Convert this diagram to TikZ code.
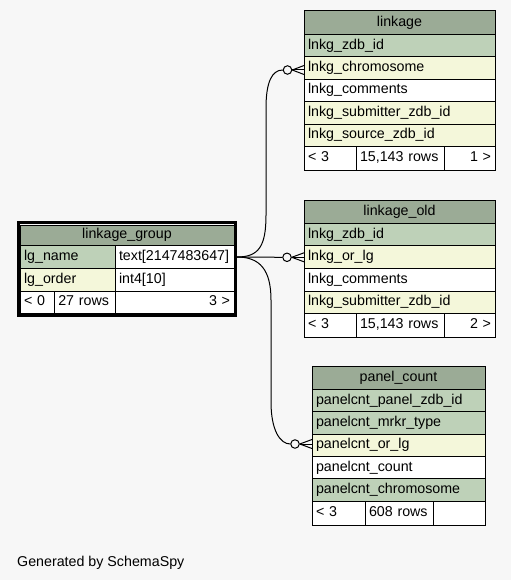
\documentclass[tikz,border=0pt]{standalone}
\usepackage{fontspec}
\setmainfont{Liberation Sans}
\definecolor{hdr}{HTML}{9BAB96}
\definecolor{pk}{HTML}{BED1B8}
\definecolor{fk}{HTML}{F4F7DA}
\definecolor{bg}{HTML}{F7F7F7}
\begin{document}
\begin{tikzpicture}[x=1pt,y=-1pt,
  cell/.style={draw=black, line width=1pt, inner xsep=4pt, inner ysep=0pt, outer sep=0pt,
    anchor=north west, text height=10pt, text depth=3pt, font=\fontsize{14.25}{16}\selectfont, align=left},
  hd/.style={cell, fill=hdr, align=center},
  pkc/.style={cell, fill=pk},
  fkc/.style={cell, fill=fk},
  wc/.style={cell, fill=white},
  rc/.style={cell, fill=white, align=right},
  odot/.style={circle, draw=black, line width=1pt, fill=bg, minimum size=8.5pt, inner sep=0pt},
  conn/.style={draw=black, line width=1pt},
]
\fill[bg] (0,0) rectangle (511,580);
\useasboundingbox (0,0) rectangle (511,580);

% ---------- linkage ----------
\node[hd, text width=183pt, minimum height=23.3pt] (lkh) at (304,11) {linkage};
\node[pkc, text width=183pt, minimum height=22.45pt] (lk1) at (304,34.3) {lnkg\_zdb\_id};
\node[fkc, text width=183pt, minimum height=22.45pt] (lk2) at (304,56.75) {lnkg\_chromosome};
\node[wc, text width=183pt, minimum height=22.45pt] (lk3) at (304,79.2) {lnkg\_comments};
\node[fkc, text width=183pt, minimum height=22.45pt] (lk4) at (304,101.65) {lnkg\_submitter\_zdb\_id};
\node[fkc, text width=183pt, minimum height=22.45pt] (lk5) at (304,124.1) {lnkg\_source\_zdb\_id};
\node[wc, text width=44pt, minimum height=23.45pt] (lkf1) at (304,146.55) {< 3};
\node[wc, text width=80pt, minimum height=23.45pt] (lkf2) at (356,146.55) {15,143 rows};
\node[rc, text width=43pt, minimum height=23.45pt] (lkf3) at (444,146.55) {1 >};

% ---------- linkage_old ----------
\node[hd, text width=183pt, minimum height=23.3pt] (loh) at (304,200) {linkage\_old};
\node[pkc, text width=183pt, minimum height=22.6pt] (lo1) at (304,223.3) {lnkg\_zdb\_id};
\node[fkc, text width=183pt, minimum height=22.6pt] (lo2) at (304,245.9) {lnkg\_or\_lg};
\node[wc, text width=183pt, minimum height=22.6pt] (lo3) at (304,268.5) {lnkg\_comments};
\node[fkc, text width=183pt, minimum height=22.6pt] (lo4) at (304,291.1) {lnkg\_submitter\_zdb\_id};
\node[wc, text width=44pt, minimum height=23.3pt] (lof1) at (304,313.7) {< 3};
\node[wc, text width=80pt, minimum height=23.3pt] (lof2) at (356,313.7) {15,143 rows};
\node[rc, text width=43pt, minimum height=23.3pt] (lof3) at (444,313.7) {2 >};

% ---------- panel_count ----------
\node[hd, text width=165pt, minimum height=23.3pt] (pch) at (312,366) {panel\_count};
\node[pkc, text width=165pt, minimum height=22.4pt] (pc1) at (312,389.3) {panelcnt\_panel\_zdb\_id};
\node[pkc, text width=165pt, minimum height=22.4pt] (pc2) at (312,411.7) {panelcnt\_mrkr\_type};
\node[fkc, text width=165pt, minimum height=22.4pt] (pc3) at (312,434.1) {panelcnt\_or\_lg};
\node[wc, text width=165pt, minimum height=22.4pt] (pc4) at (312,456.5) {panelcnt\_count};
\node[pkc, text width=165pt, minimum height=22.4pt] (pc5) at (312,478.9) {panelcnt\_chromosome};
\node[wc, text width=45pt, minimum height=23.7pt] (pcf1) at (312,501.3) {< 3};
\node[wc, text width=60.3pt, minimum height=23.7pt] (pcf2) at (365,501.3) {608 rows};
\node[rc, text width=43.7pt, minimum height=23.7pt] (pcf3) at (433.3,501.3) {};

% ---------- linkage_group ----------
\node[hd, text width=206pt, minimum height=20.7pt] (lgh) at (20,225) {linkage\_group};
\node[pkc, text width=87pt, minimum height=22.6pt] (lg1) at (20,245.7) {lg\_name};
\node[wc, text width=111pt, minimum height=22.6pt] (lg1t) at (115,245.7) {text[2147483647]};
\node[fkc, text width=87pt, minimum height=22.7pt] (lg2) at (20,268.3) {lg\_order};
\node[wc, text width=111pt, minimum height=22.7pt] (lg2t) at (115,268.3) {int4[10]};
\node[wc, text width=26.3pt, minimum height=22.3pt] (lgf1) at (20,291) {< 0};
\node[wc, text width=52.7pt, minimum height=22.3pt] (lgf2) at (54.3,291) {27 rows};
\node[rc, text width=111pt, minimum height=22.3pt] (lgf3) at (115,291) {3 >};
\draw[line width=3pt] (18.2,222.3) rectangle (235.6,315.3);

% ---------- connectors ----------
\coordinate (src) at (237,257);
\node[odot] (o1) at (287.5,70) {};
\node[odot] (o2) at (287,257.3) {};
\node[odot] (o3) at (295,444) {};

\draw[conn] (src) .. controls (259,257) and (266,246) .. (266,215) -- (266,108)
  .. controls (266,82) and (272,70) .. (o1.west);
\draw[conn] (src) -- (o2.west);
\draw[conn] (src) .. controls (260,257) and (271,270) .. (271,300) -- (271,402)
  .. controls (271,430) and (280,444) .. (o3.west);

\draw[conn] (o1.east) -- ([yshift=4.5pt]lk2.west |- o1);
\draw[conn] (o1.east) -- (lk2.west |- o1);
\draw[conn] (o1.east) -- ([yshift=-4.5pt]lk2.west |- o1);
\draw[conn] (o2.east) -- ([yshift=4.5pt]lo2.west |- o2);
\draw[conn] (o2.east) -- (lo2.west |- o2);
\draw[conn] (o2.east) -- ([yshift=-4.5pt]lo2.west |- o2);
\draw[conn] (o3.east) -- ([yshift=4.5pt]pc3.west |- o3);
\draw[conn] (o3.east) -- (pc3.west |- o3);
\draw[conn] (o3.east) -- ([yshift=-4.5pt]pc3.west |- o3);

\node[anchor=base west, inner sep=0pt, font=\fontsize{14.25}{16}\selectfont] (gen) at (17,566) {Generated by SchemaSpy};
\end{tikzpicture}
\end{document}
